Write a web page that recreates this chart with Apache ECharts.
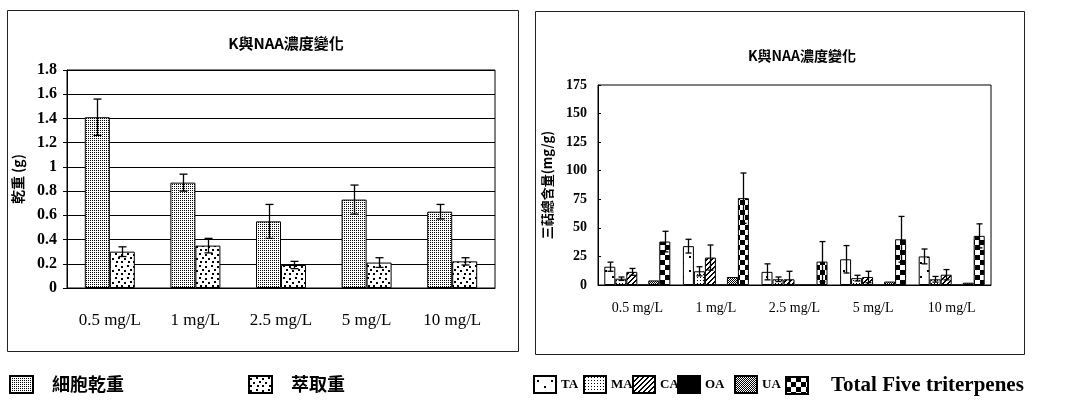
<!DOCTYPE html>
<html>
<head>
<meta charset="utf-8">
<script src="https://cdn.jsdelivr.net/npm/echarts@6/dist/echarts.min.js"></script>
<style>html,body{margin:0;padding:0;background:#fff}#c{width:1070px;height:401px}</style>
</head>
<body>
<div id="c"></div>
<script>
// ---------- data ----------
const categories = ['0.5 mg/L', '1 mg/L', '2.5 mg/L', '5 mg/L', '10 mg/L'];
const titleText = 'K與NAA濃度變化';
// left chart
const cellDry = [1.41, 0.87, 0.55, 0.73, 0.63];
const cellDryErr = [0.15, 0.07, 0.14, 0.12, 0.06];
const extract = [0.30, 0.35, 0.19, 0.21, 0.22];
const extractErr = [0.04, 0.06, 0.03, 0.04, 0.03];
const leftTicks = {min: 0, max: 1.8, step: 0.2};
// right chart
const TA = [16, 34, 11.5, 22.5, 25];
const TAErr = [4, 6, 7, 12, 6.5];
const MA = [5.5, 12, 5, 6, 5];
const MAErr = [1.5, 4, 2, 2.5, 2.5];
const CA = [11.5, 24, 5, 7, 9];
const CAErr = [3, 11, 7, 5, 4.5];
const OA = [0, 0, 0, 0, 0];
const OAErr = [0, 0, 0, 0, 0];
const UA = [4, 7, 0, 3, 2];
const UAErr = [0, 0, 0, 0, 0];
const Total = [38, 76, 20.5, 40, 43];
const TotalErr = [9, 22, 17.5, 20, 10.5];
const rightTicks = {min: 0, max: 175, step: 25};

// ---------- patterns ----------
function pat(w, h, draw) {
  const c = document.createElement('canvas');
  c.width = w; c.height = h;
  const g = c.getContext('2d');
  g.fillStyle = '#fff'; g.fillRect(0, 0, w, h);
  g.fillStyle = '#000';
  draw(g, w, h);
  return {image: c, repeat: 'repeat'};
}
const P = {
  cellDry: pat(2, 2, g => { g.fillRect(0, 0, 1, 1); }),
  extract: pat(12, 12, g => { [[1,2],[7,1],[4,6],[10,5],[1,9],[8,9]].forEach(p => g.fillRect(p[0], p[1], 2, 2)); }),
  TA: pat(14, 14, g => { g.fillRect(3, 4, 2, 2); g.fillRect(10, 10, 2, 2); }),
  MA: pat(3, 3, g => { g.fillRect(1, 1, 1, 1); }),
  CA: pat(5, 5, g => { for (let x = 0; x < 5; x++) for (let y = 0; y < 5; y++) { const s = (x + y) % 5; if (s === 0 || s === 1) g.fillRect(x, y, 1, 1); } }),
  OA: '#000',
  UA: pat(2, 2, g => { g.fillRect(0, 0, 1, 1); g.fillRect(1, 1, 1, 1); }),
  Total: pat(10, 10, g => { g.fillRect(0, 0, 5, 5); g.fillRect(5, 5, 5, 5); })
};

// ---------- helpers ----------
function errSeries(name, gridIdx, vals, errs, idx, n, barW, capW) {
  return {
    name: name + '-err', type: 'custom', xAxisIndex: gridIdx, yAxisIndex: gridIdx, z: 5,
    data: vals.map((v, i) => [i, v, errs[i]]),
    encode: {x: 0, y: 1},
    renderItem: function (params, api) {
      const ci = api.value(0), v = api.value(1), e = api.value(2);
      if (!e) return null;
      const off = (idx - (n - 1) / 2) * barW;
      const t = api.coord([ci, v + e]);
      const b = api.coord([ci, Math.max(0, v - e)]);
      const x = Math.round(t[0] + off) + 0.5;
      const st = {stroke: '#000', lineWidth: 1.3};
      return {type: 'group', children: [
        {type: 'line', shape: {x1: x, y1: t[1], x2: x, y2: b[1]}, style: st},
        {type: 'line', shape: {x1: x - capW / 2, y1: t[1], x2: x + capW / 2, y2: t[1]}, style: st},
        {type: 'line', shape: {x1: x - capW / 2, y1: b[1], x2: x + capW / 2, y2: b[1]}, style: st}
      ]};
    }
  };
}
function barSeries(name, gridIdx, vals, color, w) {
  return {
    name: name, type: 'bar', xAxisIndex: gridIdx, yAxisIndex: gridIdx,
    data: vals, barWidth: w, barGap: '0%',
    itemStyle: {color: color, borderColor: '#000', borderWidth: 1}
  };
}
function legendItem(name, left, top, font, gap, iw) {
  return {
    data: [name], left: left, top: top, padding: 0, orient: 'horizontal',
    itemWidth: iw || 23, itemHeight: 17, icon: 'rect',
    textStyle: Object.assign({color: '#000', padding: [0, 0, 0, gap || 0]}, font)
  };
}

const serif = 'Liberation Serif';
const cjk = '"Noto Sans CJK TC"';
const leftN = 2, rightN = 6, lbw = 25, rbw = 11;
const rightNames = ['TA', 'MA', 'CA', 'OA', 'UA', 'Total Five triterpenes'];
const rightVals = [TA, MA, CA, OA, UA, Total];
const rightErrs = [TAErr, MAErr, CAErr, OAErr, UAErr, TotalErr];
const rightCols = [P.TA, P.MA, P.CA, P.OA, P.UA, P.Total];

const series = [
  barSeries('細胞乾重', 0, cellDry, P.cellDry, lbw),
  barSeries('萃取重', 0, extract, P.extract, lbw),
  errSeries('細胞乾重', 0, cellDry, cellDryErr, 0, leftN, lbw, 8),
  errSeries('萃取重', 0, extract, extractErr, 1, leftN, lbw, 8)
];
rightNames.forEach((nm, i) => series.push(barSeries(nm, 1, rightVals[i], rightCols[i], rbw)));
rightNames.forEach((nm, i) => series.push(errSeries(nm, 1, rightVals[i], rightErrs[i], i, rightN, rbw, 6)));

const legFontCJK = {fontFamily: cjk, fontSize: 18, fontWeight: 'bold'};
const legFontSerif = {fontFamily: serif, fontSize: 13, fontWeight: 'bold'};

const option = {
  animation: false,
  backgroundColor: '#fff',
  title: [
    {text: titleText, left: 281, top: 31, textAlign: 'center', textStyle: {fontFamily: cjk, fontSize: 15, fontWeight: 'bold', color: '#000'}},
    {text: titleText, left: 797, top: 44, textAlign: 'center', textStyle: {fontFamily: cjk, fontSize: 14, fontWeight: 'bold', color: '#000'}}
  ],
  graphic: [
    {type: 'rect', shape: {x: 7.5, y: 10.5, width: 511, height: 341}, style: {fill: 'none', stroke: '#222', lineWidth: 1}},
    {type: 'rect', shape: {x: 535.5, y: 11.5, width: 489, height: 343}, style: {fill: 'none', stroke: '#222', lineWidth: 1}}
  ],
  legend: [
    legendItem('細胞乾重', 9, 375, legFontCJK, 14),
    legendItem('萃取重', 248, 375, legFontCJK, 14),
    legendItem('TA', 533, 375, legFontSerif, 0, 22),
    legendItem('MA', 583, 375, legFontSerif, 0, 22),
    legendItem('CA', 632, 375, legFontSerif, 0, 22),
    legendItem('OA', 677, 375, legFontSerif, 0, 22),
    legendItem('UA', 734, 375, legFontSerif, 0, 22),
    legendItem('Total Five triterpenes', 785, 375, {fontFamily: serif, fontSize: 21, fontWeight: 'bold'}, 18, 22)
  ],
  grid: [
    {left: 67, top: 70, width: 428, height: 218, show: true, borderColor: '#000', borderWidth: 1, containLabel: false},
    {left: 598, top: 85, width: 393, height: 200, show: true, borderColor: '#000', borderWidth: 1, containLabel: false}
  ],
  xAxis: [
    {type: 'category', gridIndex: 0, data: categories,
     axisLine: {lineStyle: {color: '#000'}}, axisTick: {show: false},
     axisLabel: {margin: 24, color: '#000', fontFamily: serif, fontSize: 17}},
    {type: 'category', gridIndex: 1, data: categories,
     axisLine: {lineStyle: {color: '#000'}}, axisTick: {show: false},
     axisLabel: {margin: 16, color: '#000', fontFamily: serif, fontSize: 14}}
  ],
  yAxis: [
    {type: 'value', gridIndex: 0, min: leftTicks.min, max: leftTicks.max, interval: leftTicks.step,
     name: '乾重 (g)', nameLocation: 'middle', nameRotate: 90, nameGap: 42,
     nameTextStyle: {fontFamily: cjk, fontSize: 14, fontWeight: 'bold', color: '#000'},
     axisLine: {show: true, lineStyle: {color: '#000'}},
     axisTick: {show: true, length: 4, lineStyle: {color: '#000'}},
     splitLine: {show: true, lineStyle: {color: '#000', width: 1}},
     axisLabel: {margin: 10, color: '#000', fontFamily: serif, fontSize: 16, fontWeight: 'bold'}},
    {type: 'value', gridIndex: 1, min: rightTicks.min, max: rightTicks.max, interval: rightTicks.step,
     name: '三萜總含量(mg/g)', nameLocation: 'middle', nameRotate: 90, nameGap: 44,
     nameTextStyle: {fontFamily: cjk, fontSize: 13, fontWeight: 'bold', color: '#000'},
     axisLine: {show: true, lineStyle: {color: '#000'}},
     axisTick: {show: true, inside: true, length: 3, lineStyle: {color: '#000'}},
     splitLine: {show: false},
     axisLabel: {margin: 11, color: '#000', fontFamily: serif, fontSize: 14, fontWeight: 'bold'}}
  ],
  series: series
};

const chart = echarts.init(document.getElementById('c'), null, {renderer: 'canvas'});
chart.setOption(option);
</script>
</body>
</html>
